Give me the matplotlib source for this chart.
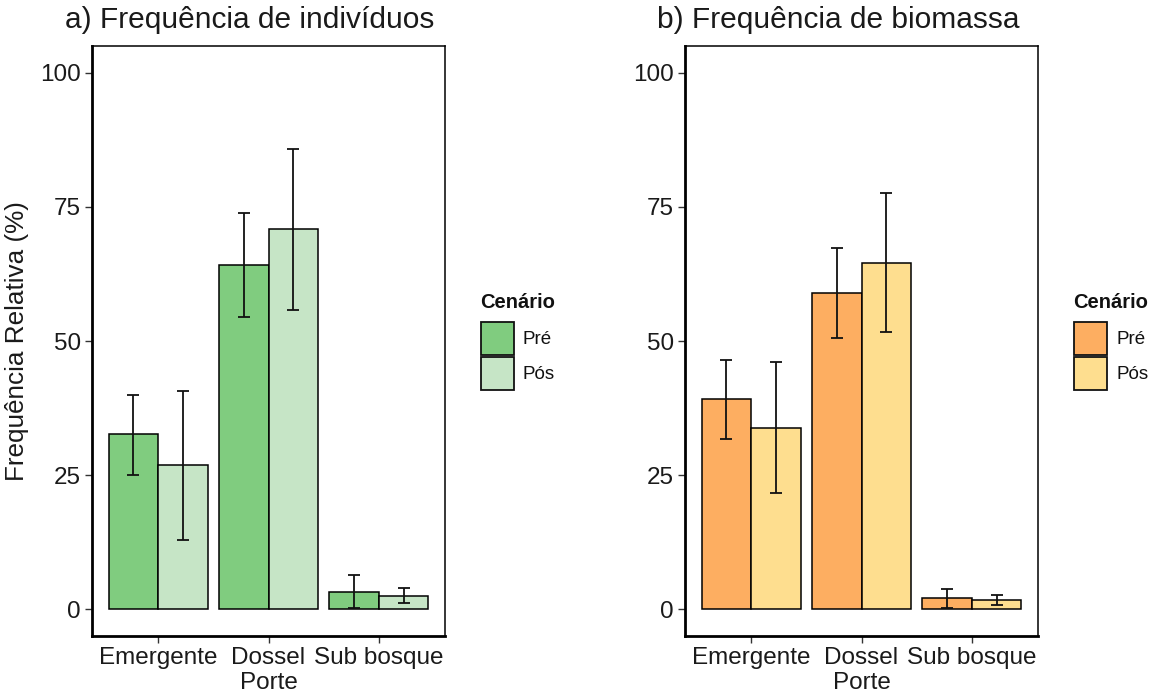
import numpy as np
import matplotlib
matplotlib.use("Agg")
import matplotlib.pyplot as plt
from matplotlib.patches import Rectangle

plt.rcParams['font.family'] = ['Liberation Sans', 'DejaVu Sans']

categories = ["Emergente", "Dossel", "Sub bosque"]
scenarios = ["Pré", "Pós"]

# a) Frequência de indivíduos
ind_pre = [32.6, 64.2, 3.2]
ind_pre_lo = [25.1, 54.5, 0.3]
ind_pre_hi = [39.9, 73.9, 6.3]
ind_pos = [26.8, 70.8, 2.5]
ind_pos_lo = [12.9, 55.8, 1.1]
ind_pos_hi = [40.6, 85.8, 4.0]

# b) Frequência de biomassa
bio_pre = [39.1, 58.9, 2.0]
bio_pre_lo = [31.8, 50.6, 0.3]
bio_pre_hi = [46.4, 67.3, 3.7]
bio_pos = [33.8, 64.5, 1.7]
bio_pos_lo = [21.7, 51.6, 0.8]
bio_pos_hi = [46.0, 77.6, 2.7]

yticks = [0, 25, 50, 75, 100]

green = ["#80cc7f", "#c6e5c6"]
orange = ["#fdae61", "#fede8f"]

W, H = 1158, 697
fig = plt.figure(figsize=(W / 100, H / 100), dpi=100)

def fx(px):
    return px / W

def fy(py):
    return 1 - py / H

def panel(left_px, title, title_cx, pre, pre_lo, pre_hi, pos, pos_lo, pos_hi, colors, ylabel):
    ax = fig.add_axes([fx(left_px), fy(636), (353) / W, 590 / H])
    x = np.arange(len(categories))
    bw = 0.45
    for k, (vals, lo, hi) in enumerate([(pre, pre_lo, pre_hi), (pos, pos_lo, pos_hi)]):
        xs = x + (k - 0.5) * bw
        ax.bar(xs, vals, width=bw, color=colors[k], edgecolor="black", linewidth=1.1, zorder=2)
        vals_a = np.array(vals)
        yerr = np.vstack([vals_a - np.array(lo), np.array(hi) - vals_a])
        ax.errorbar(xs, vals, yerr=yerr, fmt="none", ecolor="#111111", elinewidth=1.3,
                    capsize=4.5, capthick=1.3, zorder=3)
    ax.set_xlim(-0.6, len(categories) - 1 + 0.6)
    ax.set_ylim(-5, 105)
    ax.set_xticks(x)
    ax.set_xticklabels(categories, fontsize=17.5, color="#1a1a1a")
    ax.set_yticks(yticks)
    ax.set_yticklabels([str(v) for v in yticks], fontsize=17.5, color="#1a1a1a")
    ax.tick_params(axis="both", length=5, width=1.0, color="#333333", pad=3)
    for s in ["left", "bottom"]:
        ax.spines[s].set_linewidth(2.0)
    for s in ["top", "right"]:
        ax.spines[s].set_linewidth(1.1)
    ax.set_xlabel("Porte", fontsize=17.5, labelpad=2, color="#1a1a1a")
    if ylabel:
        ax.set_ylabel("Frequência Relativa (%)", fontsize=18.8, labelpad=8, color="#1a1a1a")
    fig.text(fx(title_cx), fy(20), title, fontsize=21.5, ha="center", va="center", color="#1a1a1a")
    return ax

panel(92, "a) Frequência de indivíduos", 250, ind_pre, ind_pre_lo, ind_pre_hi,
      ind_pos, ind_pos_lo, ind_pos_hi, green, True)
panel(685, "b) Frequência de biomassa", 838, bio_pre, bio_pre_lo, bio_pre_hi,
      bio_pos, bio_pos_lo, bio_pos_hi, orange, False)

def legend(x_px, colors):
    fig.text(fx(x_px), fy(302), "Cenário", fontsize=14.5, fontweight="bold",
             ha="left", va="center", color="#111111")
    for i, lab in enumerate(scenarios):
        top = 322 + i * 34.5
        fig.add_artist(Rectangle((fx(x_px + 1), fy(top + 33)), 33 / W, 33 / H,
                                 transform=fig.transFigure, facecolor=colors[i],
                                 edgecolor="#111111", linewidth=1.3))
        fig.text(fx(x_px + 43), fy(top + 18), lab, fontsize=13.5, ha="left", va="center",
                 color="#111111")

legend(480, green)
legend(1073, orange)

fig.savefig("out.png", dpi=100, facecolor="white")
